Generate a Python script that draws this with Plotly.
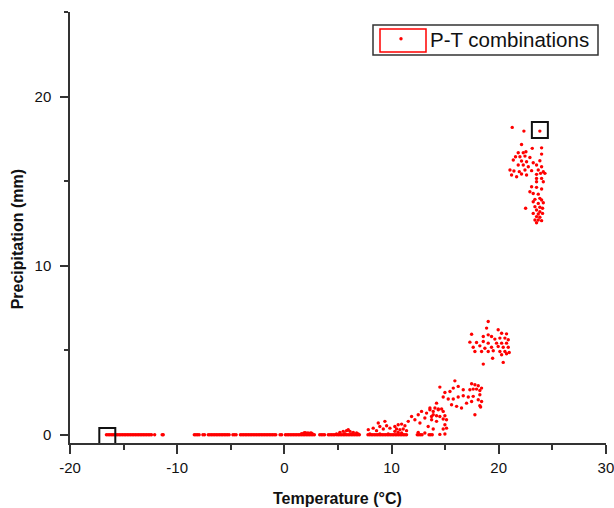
import plotly.graph_objects as go

# ---------------- data ----------------
# days with zero precipitation (P = 0)
zero_temp = [-16.6, -16.45, -16.3, -16.15, -16.0, -15.85, -15.7, -15.55, -15.4, -15.25,
             -15.1, -14.95, -14.8, -14.65, -14.5, -14.35, -14.2, -14.05, -13.9, -13.75,
             -13.6, -13.45, -13.3, -13.15, -13.0, -12.85, -12.7, -12.55, -12.4, -12.1,
             -11.4, -11.3,
             -8.4, -8.25, -8.1, -7.95, -7.6, -7.45, -7.1, -6.95, -6.8, -6.65, -6.5, -6.35,
             -6.2, -6.05, -5.9, -5.75, -5.6, -5.45, -5.3, -5.15, -4.8, -4.65, -4.5,
             -4.1, -3.95, -3.8, -3.65, -3.5, -3.35, -3.2, -3.05, -2.9, -2.75, -2.6, -2.45,
             -2.3, -2.15, -2.0, -1.85, -1.7, -1.55, -1.4, -1.25, -1.1, -0.95, -0.8,
             -0.4, -0.25, 0.1, 0.25, 0.4, 0.55, 0.7, 0.85, 1.0, 1.15, 1.3, 1.45, 1.6,
             1.75, 1.9, 2.05, 2.2, 2.35, 2.5, 2.65, 2.8, 3.3, 3.45, 3.6, 3.75,
             4.1, 4.25, 4.4, 4.55, 4.7, 4.9, 5.05, 5.2, 5.35, 5.5, 5.65, 5.8, 5.95, 6.1,
             6.25, 6.4, 6.55, 6.7, 6.85, 7.0, 7.8, 7.95, 8.1, 8.25, 8.4, 8.55, 8.7, 8.85,
             9.0, 9.15, 9.3, 9.45, 9.6, 9.75, 9.9, 10.05, 10.2, 10.35, 10.5, 10.65, 10.8,
             10.95, 11.1, 11.25, 11.4, 12.4, 12.55, 12.7, 12.85, 13.5, 13.65, 13.8]

# days with precipitation
wet_temp = [1.6, 1.8, 2.0, 2.2, 2.4, 2.6, 2.0, 2.3, 1.9, 2.5,
            5.18, 5.49, 5.8, 6.12, 6.43, 6.74, 5.65, 6.27, 6.89, 5.96, 4.87,
            7.83, 8.29, 8.6, 8.91, 9.23, 9.54, 9.85, 8.76, 9.38, 7.98, 8.91, 9.69,
            10.31, 10.62, 10.94, 11.25, 10.47, 10.78, 11.09, 11.4, 10.62, 10.94, 10.31,
            11.56, 11.87, 12.18, 12.49, 12.65, 12.8, 13.11, 13.27, 13.58, 13.73, 13.89,
            14.2, 14.36, 13.42, 12.49, 13.11, 13.89,
            13.58, 14.05, 14.36, 14.67, 14.82, 13.89, 14.2, 14.51, 14.98, 13.74, 14.2,
            14.82, 15.13, 14.98, 14.82, 15.13, 14.51, 14.98,
            15.91, 15.76, 16.22, 16.69, 14.51, 14.98, 15.45, 17.47, 17.78, 18.09, 18.4,
            17.31, 17.62, 17.93, 18.24, 14.82, 15.29, 15.76, 16.22, 16.69, 17.16, 17.62,
            18.24, 18.09, 18.4, 15.6, 16.07, 16.53, 17.0, 17.47, 18.24, 18.31, 17.78,
            19.02, 18.87, 17.47, 18.56, 19.02, 19.33, 19.95, 20.27, 20.73, 19.64, 20.11,
            20.58, 20.89, 17.31, 17.93, 18.56, 19.02, 19.8, 20.27, 20.73, 17.62, 18.24,
            18.71, 19.33, 19.95, 20.42, 20.89, 17.78, 18.4, 19.02, 19.49, 20.11, 20.58,
            20.98, 20.27, 20.73, 19.43, 18.56, 20.42,
            21.26, 22.35, 23.84, 22.13, 23.13, 24.0, 21.82, 22.29, 22.54, 21.57, 21.98,
            22.45, 22.91, 24.0, 21.36, 22.13, 22.6, 23.22, 23.84, 21.82, 22.29, 22.76,
            23.53, 24.0, 21.05, 21.42, 21.92, 22.45, 23.07, 23.69, 24.16, 21.2, 21.67,
            22.13, 22.6, 23.53, 23.91, 24.31, 23.53, 24.0, 24.16, 23.53, 23.07, 23.53,
            24.0, 22.91, 23.22, 23.69, 23.38, 23.84, 24.0, 23.22, 23.69, 24.16, 22.51,
            23.38, 23.84, 24.09, 23.53, 23.84, 23.22, 23.69, 24.09, 23.53, 23.84, 23.38,
            23.69, 24.0, 23.53]
wet_precip = [0.06, 0.09, 0.11, 0.1, 0.09, 0.06, 0.05, 0.05, 0.12, 0.11,
              0.14, 0.2, 0.24, 0.2, 0.14, 0.1, 0.06, 0.04, 0.04, 0.3, 0.04,
              0.3, 0.39, 0.24, 0.49, 0.34, 0.53, 0.39, 0.69, 0.79, 0.04, 0.04, 0.04,
              0.49, 0.59, 0.63, 0.53, 0.34, 0.3, 0.34, 0.24, 0.14, 0.1, 0.2,
              0.79, 1.08, 0.89, 1.18, 0.69, 1.38, 0.99, 1.28, 1.58, 1.08, 1.38,
              1.87, 1.52, 0.49, 0.14, 0.1, 0.34,
              1.48, 1.58, 1.48, 1.52, 1.38, 1.18, 1.12, 1.08, 1.12, 0.89, 0.79,
              0.93, 0.89, 0.59, 0.34, 0.39, 0.02, 0.04,
              3.19, 2.76, 2.86, 2.66, 2.82, 2.5, 2.56, 3.02, 2.96, 2.9, 2.76,
              2.66, 2.7, 2.7, 2.62, 2.23, 2.11, 2.11, 2.23, 2.31, 2.23, 2.27,
              2.37, 2.07, 1.97, 1.77, 1.68, 1.58, 1.87, 1.97, 1.72, 1.64, 1.18,
              6.7, 6.31, 5.95, 5.81, 5.91, 5.81, 6.21, 6.01, 5.97, 5.66, 5.72,
              5.72, 5.62, 5.48, 5.46, 5.52, 5.42, 5.42, 5.42, 5.42, 5.18, 5.26,
              5.12, 5.18, 5.22, 5.18, 5.18, 4.93, 4.93, 4.93, 4.97, 4.93, 4.93,
              4.87, 4.73, 4.79, 4.53, 4.18, 4.28,
              18.19, 17.97, 17.97, 17.18, 16.95, 16.98, 16.69, 16.69, 16.75, 16.45, 16.45,
              16.49, 16.41, 16.61, 16.26, 16.2, 16.16, 16.1, 16.22, 15.96, 15.96, 15.86,
              15.96, 15.86, 15.67, 15.61, 15.57, 15.67, 15.63, 15.67, 15.57, 15.37, 15.27,
              15.43, 15.37, 15.41, 15.47, 15.47, 15.17, 15.17, 14.97, 14.97, 14.68, 14.64,
              14.54, 14.38, 14.28, 14.24, 13.93, 13.99, 13.89, 13.79, 13.69, 13.73, 13.4,
              13.5, 13.46, 13.4, 13.3, 13.2, 13.1, 13.06, 13.1, 12.91, 12.87, 12.71,
              12.71, 12.67, 12.55]

# the two highlighted extremes (min and max)
extreme_temp = [-16.52, 23.84]
extreme_precip = [-0.08, 18.03]

x_ticks = [-20, -10, 0, 10, 20, 30]
x_tick_labels = ["-20", "-10", "0", "10", "20", "30"]
y_ticks = [0, 10, 20]
y_tick_labels = ["0", "10", "20"]

# ---------------- figure ----------------
all_temp = zero_temp + wet_temp
all_precip = [0.0] * len(zero_temp) + wet_precip

fig = go.Figure()
fig.add_trace(go.Scatter(
    x=all_temp, y=all_precip, mode="markers", name="P-T combinations",
    marker=dict(color="#ff0000", size=3.4, symbol="circle", line=dict(width=0)),
    cliponaxis=False,
))
fig.add_trace(go.Scatter(
    x=extreme_temp, y=extreme_precip, mode="markers", showlegend=False,
    marker=dict(symbol="square-open", size=16, color="#111111", line=dict(width=2, color="#111111")),
    cliponaxis=False,
))

FONT = "Liberation Sans, Arial, sans-serif"
axis_font = dict(family=FONT, size=15, color="#111111")

W, L, R = 614, 70, 8
H, T, B = 508, 12, 64.7
PW = W - L - R
PH = H - T - B
def px(x):
    return (x - L) / PW
def py(y):
    return (H - B - y) / PH

fig.update_layout(
    width=W, height=H,
    margin=dict(l=L, r=R, t=T, b=B, pad=0, autoexpand=False),
    paper_bgcolor="white", plot_bgcolor="white",
    font=axis_font,
    xaxis=dict(
        range=[-20, 30.01], tickvals=x_ticks, ticktext=x_tick_labels,
        automargin=False,
        showgrid=False, zeroline=False, showline=True, linecolor="#333333", linewidth=1.5,
        ticks="outside", ticklen=9, tickwidth=1.5, tickcolor="#333333",
        ticklabelstandoff=1, tickfont=axis_font, ticklabeloverflow="allow",
        minor=dict(dtick=5, tick0=0, ticks="outside", ticklen=5, tickwidth=1.5, tickcolor="#333333"),
    ),
    yaxis=dict(
        range=[-0.49, 25.02], tickvals=y_ticks, ticktext=y_tick_labels,
        automargin=False,
        showgrid=False, zeroline=False, showline=True, linecolor="#333333", linewidth=1.5,
        ticks="outside", ticklen=8, tickwidth=1.5, tickcolor="#333333",
        ticklabelstandoff=6, tickfont=axis_font,
        minor=dict(dtick=5, tick0=0, ticks="outside", ticklen=4, tickwidth=1.5, tickcolor="#333333"),
    ),
    legend=dict(
        x=px(372), y=py(19), xanchor="left", yanchor="top",
        bgcolor="rgba(0,0,0,0)", borderwidth=0,
        font=dict(family=FONT, size=20.5, color="#111111"),
        itemwidth=48,
    ),
    annotations=[
        dict(text="<b>Temperature (°C)</b>", xref="paper", yref="paper",
             x=px(337), y=py(499), xanchor="center", yanchor="middle",
             showarrow=False, font=dict(family=FONT, size=16, color="#111111")),
        dict(text="<b>Precipitation (mm)</b>", xref="paper", yref="paper",
             x=px(17.5), y=py(240), xanchor="center", yanchor="middle",
             textangle=-90, showarrow=False,
             font=dict(family=FONT, size=16, color="#111111")),
    ],
    shapes=[
        # legend frame
        dict(type="rect", xref="paper", yref="paper",
             x0=px(373), x1=px(598), y0=py(55), y1=py(25),
             line=dict(color="#333333", width=1.5), fillcolor="rgba(0,0,0,0)", layer="above"),
        # red frame around the legend symbol
        dict(type="rect", xref="paper", yref="paper",
             x0=px(380), x1=px(426), y0=py(52), y1=py(29),
             line=dict(color="#ff0000", width=1.5), fillcolor="rgba(0,0,0,0)", layer="above"),
    ],
)

fig.write_html("out.html")
